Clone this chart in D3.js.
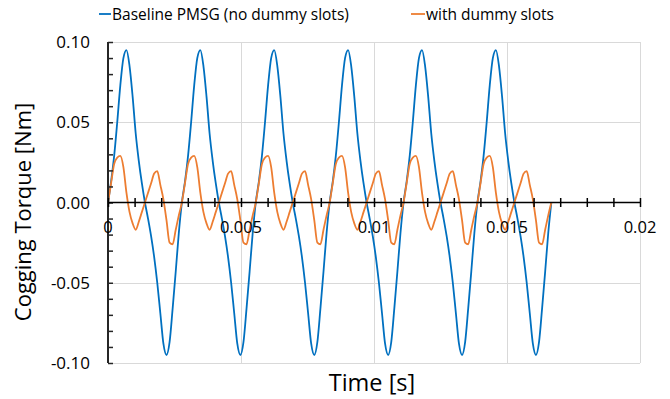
<!DOCTYPE html>
<html>
<head>
<meta charset="utf-8">
<script src="https://cdn.jsdelivr.net/npm/d3@7"></script>
<style>
  html, body { margin: 0; padding: 0; background: #fff; }
  svg text { font-family: "Open Sans", sans-serif; fill: #000; }
</style>
</head>
<body>
<svg id="chart" width="670" height="399"></svg>
<script>
// Cogging torque over time, sampled every 1/8640 s
const seriesNames = ["Baseline PMSG (no dummy slots)", "with dummy slots"];
const sampleStep = 1 / 8640;

const baseline = [
  0, 0.013, 0.029, 0.050, 0.073, 0.090, 0.095, 0.085, 0.066, 0.043, 0.026, 0.012, 0, -0.010, -0.021, -0.034, -0.050, -0.069, -0.088, -0.095, -0.087, -0.066, -0.043, -0.019,
  0, 0.013, 0.029, 0.050, 0.073, 0.090, 0.095, 0.085, 0.066, 0.043, 0.026, 0.012, 0, -0.010, -0.021, -0.034, -0.050, -0.069, -0.088, -0.095, -0.087, -0.066, -0.043, -0.019,
  0, 0.013, 0.029, 0.050, 0.073, 0.090, 0.095, 0.085, 0.066, 0.043, 0.026, 0.012, 0, -0.010, -0.021, -0.034, -0.050, -0.069, -0.088, -0.095, -0.087, -0.066, -0.043, -0.019,
  0, 0.013, 0.029, 0.050, 0.073, 0.090, 0.095, 0.085, 0.066, 0.043, 0.026, 0.012, 0, -0.010, -0.021, -0.034, -0.050, -0.069, -0.088, -0.095, -0.087, -0.066, -0.043, -0.019,
  0, 0.013, 0.029, 0.050, 0.073, 0.090, 0.095, 0.085, 0.066, 0.043, 0.026, 0.012, 0, -0.010, -0.021, -0.034, -0.050, -0.069, -0.088, -0.095, -0.087, -0.066, -0.043, -0.019,
  0, 0.013, 0.029, 0.050, 0.073, 0.090, 0.095, 0.085, 0.066, 0.043, 0.026, 0.012, 0, -0.010, -0.021, -0.034, -0.050, -0.069, -0.088, -0.095, -0.087, -0.066, -0.043, -0.019,
  0
];

const dummySlots = [
  0, 0.012, 0.024, 0.028, 0.029, 0.022, 0.006, -0.006, -0.013, -0.017, -0.012, -0.006, 0, 0.006, 0.012, 0.018, 0.0195, 0.011, 0.002, -0.011, -0.025, -0.026, -0.017, -0.008,
  0, 0.012, 0.024, 0.028, 0.029, 0.022, 0.006, -0.006, -0.013, -0.017, -0.012, -0.006, 0, 0.006, 0.012, 0.018, 0.0195, 0.011, 0.002, -0.011, -0.025, -0.026, -0.017, -0.008,
  0, 0.012, 0.024, 0.028, 0.029, 0.022, 0.006, -0.006, -0.013, -0.017, -0.012, -0.006, 0, 0.006, 0.012, 0.018, 0.0195, 0.011, 0.002, -0.011, -0.025, -0.026, -0.017, -0.008,
  0, 0.012, 0.024, 0.028, 0.029, 0.022, 0.006, -0.006, -0.013, -0.017, -0.012, -0.006, 0, 0.006, 0.012, 0.018, 0.0195, 0.011, 0.002, -0.011, -0.025, -0.026, -0.017, -0.008,
  0, 0.012, 0.024, 0.028, 0.029, 0.022, 0.006, -0.006, -0.013, -0.017, -0.012, -0.006, 0, 0.006, 0.012, 0.018, 0.0195, 0.011, 0.002, -0.011, -0.025, -0.026, -0.017, -0.008,
  0, 0.012, 0.024, 0.028, 0.029, 0.022, 0.006, -0.006, -0.013, -0.017, -0.012, -0.006, 0, 0.006, 0.012, 0.018, 0.0195, 0.011, 0.002, -0.011, -0.025, -0.026, -0.017, -0.008,
  0
];

const xMajorTicks = [0, 0.005, 0.01, 0.015, 0.02];
const xTickLabels = ["0", "0.005", "0.01", "0.015", "0.02"];
const yMajorTicks = [-0.1, -0.05, 0, 0.05, 0.1];
const yTickLabels = ["-0.10", "-0.05", "0.00", "0.05", "0.10"];
const seriesColors = ["#0070C0", "#ED7D31"];

const svg = d3.select("#chart");
const x = d3.scaleLinear().domain([0, 0.02]).range([108, 640]);
const y = d3.scaleLinear().domain([-0.1, 0.1]).range([363, 42]);

// gridlines
const grid = svg.append("g").attr("stroke", "#d9d9d9").attr("stroke-width", 1);
grid.selectAll("line.h").data(yMajorTicks.filter(v => v !== 0)).join("line")
  .attr("x1", x(0)).attr("x2", x(0.02))
  .attr("y1", d => Math.round(y(d)) + 0.5).attr("y2", d => Math.round(y(d)) + 0.5);
grid.selectAll("line.v").data(xMajorTicks.filter(v => v !== 0)).join("line")
  .attr("y1", y(0.1)).attr("y2", y(-0.1))
  .attr("x1", d => Math.round(x(d)) + 0.5).attr("x2", d => Math.round(x(d)) + 0.5);

// series
const line = d3.line()
  .x((d, i) => x(i * sampleStep))
  .y(d => y(d))
  .curve(d3.curveMonotoneX);

[baseline, dummySlots].forEach((vals, k) => {
  svg.append("path")
    .attr("d", line(vals))
    .attr("fill", "none")
    .attr("stroke", seriesColors[k])
    .attr("stroke-width", 1.8)
    .attr("stroke-linejoin", "round");
});

// y axis with inner minor ticks
const yAxis = d3.axisRight(y)
  .tickValues(d3.range(-10, 11).map(v => v / 100))
  .tickSize(5)
  .tickFormat("");
const yg = svg.append("g").attr("transform", `translate(${x(0)},0)`).call(yAxis);
yg.select(".domain").attr("stroke", "#262626").attr("stroke-width", 2).attr("d", `M0,${y(0.1)}V${y(-0.1)}`);
yg.selectAll(".tick line").attr("stroke", "#262626").attr("stroke-width", 1.5);

svg.append("g").selectAll("text").data(yMajorTicks).join("text")
  .attr("x", 90).attr("y", d => y(d)).attr("dy", "0.36em")
  .attr("text-anchor", "end").attr("font-size", 17)
  .text((d, i) => yTickLabels[i]);

// x axis at zero with crossing ticks
const xAxis = d3.axisBottom(x)
  .tickValues(d3.range(0, 21).map(v => v / 1000))
  .tickSize(0)
  .tickFormat("");
const xg = svg.append("g").attr("transform", `translate(0,${y(0)})`).call(xAxis);
xg.select(".domain").attr("stroke", "#000").attr("stroke-width", 1.6).attr("d", `M${x(0)},0H${x(0.02)}`);
xg.selectAll(".tick line").attr("stroke", "#000").attr("stroke-width", 1.5).attr("y1", -4.5).attr("y2", 4.5);

svg.append("g").selectAll("text").data(xMajorTicks).join("text")
  .attr("x", d => x(d)).attr("y", 233)
  .attr("text-anchor", "middle").attr("font-size", 16.5)
  .text((d, i) => xTickLabels[i]);

// axis titles
svg.append("text")
  .attr("transform", `translate(31,212) rotate(-90)`)
  .attr("text-anchor", "middle").attr("font-size", 22)
  .text("Cogging Torque [Nm]");
svg.append("text")
  .attr("x", 372).attr("y", 391)
  .attr("text-anchor", "middle").attr("font-size", 23.5)
  .text("Time [s]");

// legend
const legendItems = [{ x0: 99, x1: 111 }, { x0: 411, x1: 425 }];
legendItems.forEach((it, k) => {
  svg.append("line")
    .attr("x1", it.x0).attr("x2", it.x1).attr("y1", 14).attr("y2", 14)
    .attr("stroke", seriesColors[k]).attr("stroke-width", 1.8);
  svg.append("text")
    .attr("x", it.x1 + 1).attr("y", 20)
    .attr("font-size", 15.5)
    .text(seriesNames[k]);
});
</script>
</body>
</html>
